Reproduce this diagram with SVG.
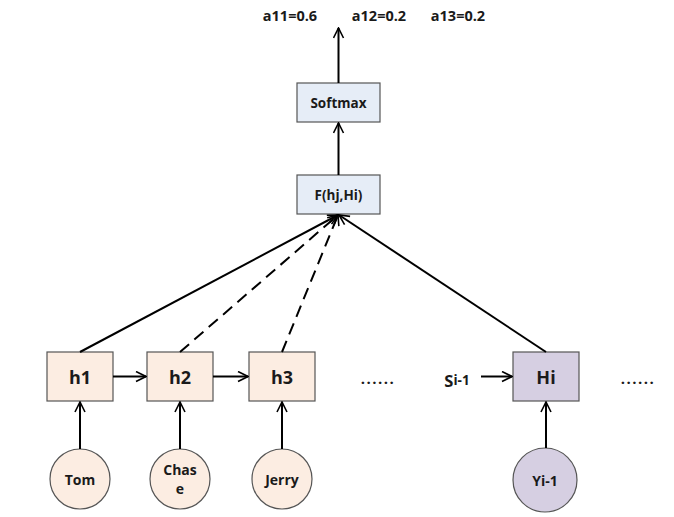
<svg xmlns="http://www.w3.org/2000/svg" width="674" height="517" viewBox="0 0 674 517">
<defs>
<marker id="arr" viewBox="0 0 12 12" refX="11" refY="6" markerWidth="12" markerHeight="12" markerUnits="userSpaceOnUse" orient="auto">
<path d="M1,1 L11,6 L1,11" fill="none" stroke="#000" stroke-width="1.6"/>
</marker>
<style>
text{font-family:"Open Sans","Noto Sans","Liberation Sans",sans-serif;font-weight:bold;fill:#1a1a1a;text-anchor:middle;dominant-baseline:central}
.blue{fill:#e6edf7;stroke:#555;stroke-width:1.2}
.peach{fill:#fcede2;stroke:#555;stroke-width:1.2}
.lav{fill:#d6cfe2;stroke:#555;stroke-width:1.2}
.c{stroke:#000;stroke-width:2;fill:none}
.d{stroke-dasharray:12,7}
.a{marker-end:url(#arr)}
.dots{font-size:15px;letter-spacing:1.5px}
</style>
</defs>
<rect width="674" height="517" fill="#fff"/>
<g id="labels">
<text x="290" y="15" font-size="14.5">a11=0.6</text>
<text x="379" y="15" font-size="14.5">a12=0.2</text>
<text x="458" y="15" font-size="14.5">a13=0.2</text>
<text class="dots" x="378" y="378">......</text>
<text class="dots" x="638" y="378">......</text>
<text x="457" y="380" font-size="16.5">S<tspan font-size="13.5">i-1</tspan></text>
</g>
<g id="softmax"><rect class="blue" x="297" y="83" width="83" height="39"/><text x="338.5" y="102.5" font-size="13.5">Softmax</text></g>
<g id="f"><rect class="blue" x="297" y="175" width="83" height="39"/><text x="338.5" y="194.5" font-size="13.5">F(hj,Hi)</text></g>
<g id="h1"><rect class="peach" x="47" y="352" width="66" height="49"/><text x="80" y="376.5" font-size="18">h1</text></g>
<g id="h2"><rect class="peach" x="147" y="352" width="66" height="49"/><text x="180" y="376.5" font-size="18">h2</text></g>
<g id="h3"><rect class="peach" x="249" y="352" width="66" height="49"/><text x="282" y="376.5" font-size="18">h3</text></g>
<g id="Hi"><rect class="lav" x="513" y="352" width="66" height="49"/><text x="546" y="376.5" font-size="18">Hi</text></g>
<g id="tom"><circle class="peach" cx="80" cy="479" r="30"/><text x="80" y="479" font-size="14">Tom</text></g>
<g id="chase"><circle class="peach" cx="180" cy="479" r="30"/><text x="180" y="469" font-size="14">Chas</text><text x="180" y="488.5" font-size="14">e</text></g>
<g id="jerry"><circle class="peach" cx="282" cy="479" r="30"/><text x="282" y="479" font-size="14">Jerry</text></g>
<g id="yi1"><circle class="lav" cx="545" cy="480" r="32"/><text x="545" y="480" font-size="14">Yi-1</text></g>
<g id="connectors">
<line class="c a" x1="338.5" y1="83" x2="338.5" y2="28"/>
<line class="c a" x1="338.5" y1="175" x2="338.5" y2="123"/>
<line class="c a" x1="80" y1="352" x2="338" y2="215"/>
<line class="c d a" x1="180" y1="352" x2="338" y2="215"/>
<line class="c d a" x1="282" y1="352" x2="338" y2="215"/>
<line class="c a" x1="546" y1="352" x2="339" y2="215"/>
<line class="c a" x1="113" y1="376.5" x2="146" y2="376.5"/>
<line class="c a" x1="213" y1="376.5" x2="248" y2="376.5"/>
<line class="c a" x1="481" y1="376.5" x2="512" y2="376.5"/>
<line class="c a" x1="80" y1="449" x2="80" y2="402"/>
<line class="c a" x1="180" y1="449" x2="180" y2="402"/>
<line class="c a" x1="282" y1="449" x2="282" y2="402"/>
<line class="c a" x1="546" y1="448" x2="546" y2="402"/>
</g>
</svg>
